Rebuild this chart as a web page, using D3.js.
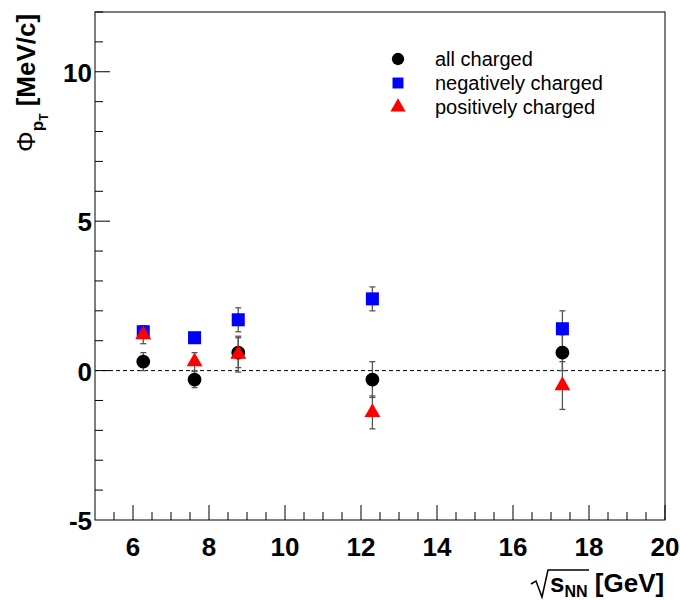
<!DOCTYPE html>
<html><head><meta charset="utf-8">
<script src="https://cdn.jsdelivr.net/npm/d3@7"></script>
<style>body{margin:0;background:#fff}svg{display:block}</style>
</head><body>
<svg id="c" width="680" height="600"></svg>
<script>
const energies = [6.27, 7.62, 8.77, 12.3, 17.3];
const allCharged = [0.3, -0.3, 0.6, -0.3, 0.6];
const allErr = [0.3, 0.27, 0.5, 0.6, 0.6];
const negCharged = [1.3, 1.1, 1.7, 2.4, 1.4];
const negErr = [0.2, 0.1, 0.4, 0.4, 0.6];
const posCharged = [1.2, 0.3, 0.55, -1.4, -0.5];
const posErr = [0.3, 0.3, 0.6, 0.55, 0.8];
const xTicks = [6, 8, 10, 12, 14, 16, 18, 20];
const yTicks = [-5, 0, 5, 10];
const legendLabels = ["all charged", "negatively charged", "positively charged"];

const svg = d3.select("#c");
const L = 95, R = 665, T = 12, B = 520;
const x = d3.scaleLinear().domain([5, 20]).range([L, R]);
const y = d3.scaleLinear().domain([-5, 12]).range([B, T]);
const font = "'Liberation Sans', Arial, Helvetica, sans-serif";

// frame
svg.append("rect").attr("x", L).attr("y", T).attr("width", R - L).attr("height", B - T)
  .attr("fill", "none").attr("stroke", "#000").attr("stroke-width", 1);

// zero dashed line
svg.append("line").attr("x1", L).attr("x2", R).attr("y1", y(0)).attr("y2", y(0))
  .attr("stroke", "#000").attr("stroke-dasharray", "4,3").attr("stroke-width", 1);

// x axis ticks (inside)
const xMinor = d3.range(5.5, 20.01, 0.5);
svg.append("g").selectAll("line").data(xMinor).join("line")
  .attr("x1", d => x(d)).attr("x2", d => x(d))
  .attr("y1", B).attr("y2", d => (Math.abs(d % 2) < 1e-9) ? B - 15 : B - 8)
  .attr("stroke", "#000");
svg.append("g").selectAll("text").data(xTicks).join("text")
  .attr("x", d => x(d)).attr("y", 556).attr("text-anchor", "middle")
  .attr("font-family", font).attr("font-weight", "bold").attr("font-size", 26)
  .text(d => d);

// y axis ticks
const yMinor = d3.range(-4, 12.01, 1);
svg.append("g").selectAll("line").data(yMinor).join("line")
  .attr("y1", d => y(d)).attr("y2", d => y(d))
  .attr("x1", L).attr("x2", d => (d % 5 === 0) ? L + 15 : L + 8)
  .attr("stroke", "#000");
svg.append("g").selectAll("text").data(yTicks).join("text")
  .attr("x", 92).attr("y", d => y(d) + 10).attr("text-anchor", "end")
  .attr("font-family", font).attr("font-weight", "bold").attr("font-size", 26)
  .text(d => d);

// axis titles
const yt = svg.append("text").attr("transform", "translate(35,152) rotate(-90)")
  .attr("font-family", font).attr("font-weight", "bold").attr("font-size", 26);
yt.append("tspan").attr("font-weight", "normal").text("Φ");
yt.append("tspan").attr("font-size", 17).attr("dy", 8).text("p");
yt.append("tspan").attr("font-size", 12).attr("dy", 5).text("T");
yt.append("tspan").attr("dy", -13).text(" [MeV/c]");

const xt = svg.append("g");
xt.append("path").attr("d", "M531,584 L536,581 L542,597 L548,570 L589,570")
  .attr("fill", "none").attr("stroke", "#000").attr("stroke-width", 1.5);
const xtt = xt.append("text").attr("x", 550).attr("y", 592)
  .attr("font-family", font).attr("font-weight", "bold").attr("font-size", 26);
xtt.append("tspan").text("s");
xtt.append("tspan").attr("font-size", 16).attr("dy", 5).text("NN");
xtt.append("tspan").attr("dy", -5).text(" [GeV]");

// series
const series = [
  {vals: allCharged, errs: allErr, color: "#000", shape: d3.symbolCircle, size: 150},
  {vals: negCharged, errs: negErr, color: "#0000ff", shape: d3.symbolSquare, size: 170},
  {vals: posCharged, errs: posErr, color: "#ff0000", shape: d3.symbolTriangle, size: 110}
];

const gErr = svg.append("g");
series.forEach(s => {
  energies.forEach((e, i) => {
    const cx = x(e), y1 = y(s.vals[i] + s.errs[i]), y2 = y(s.vals[i] - s.errs[i]);
    gErr.append("line").attr("x1", cx).attr("x2", cx).attr("y1", y1).attr("y2", y2)
      .attr("stroke", "#555").attr("stroke-width", 1.3);
    [y1, y2].forEach(yy => gErr.append("line").attr("x1", cx - 3).attr("x2", cx + 3)
      .attr("y1", yy).attr("y2", yy).attr("stroke", "#555").attr("stroke-width", 1.3));
  });
});
series.forEach(s => {
  svg.append("g").selectAll("path").data(energies).join("path")
    .attr("transform", (e, i) => `translate(${x(e)},${y(s.vals[i])})`)
    .attr("d", d3.symbol().type(s.shape).size(s.size))
    .attr("fill", s.color);
});

// legend
const lg = svg.append("g");
series.forEach((s, i) => {
  const ly = 59 + i * 24;
  lg.append("path").attr("transform", `translate(398,${ly})`)
    .attr("d", d3.symbol().type(s.shape).size(i === 2 ? 100 : 120)).attr("fill", s.color);
  lg.append("text").attr("x", 435).attr("y", ly + 7)
    .attr("font-family", font).attr("font-size", 20).text(legendLabels[i]);
});
</script>
</body></html>
